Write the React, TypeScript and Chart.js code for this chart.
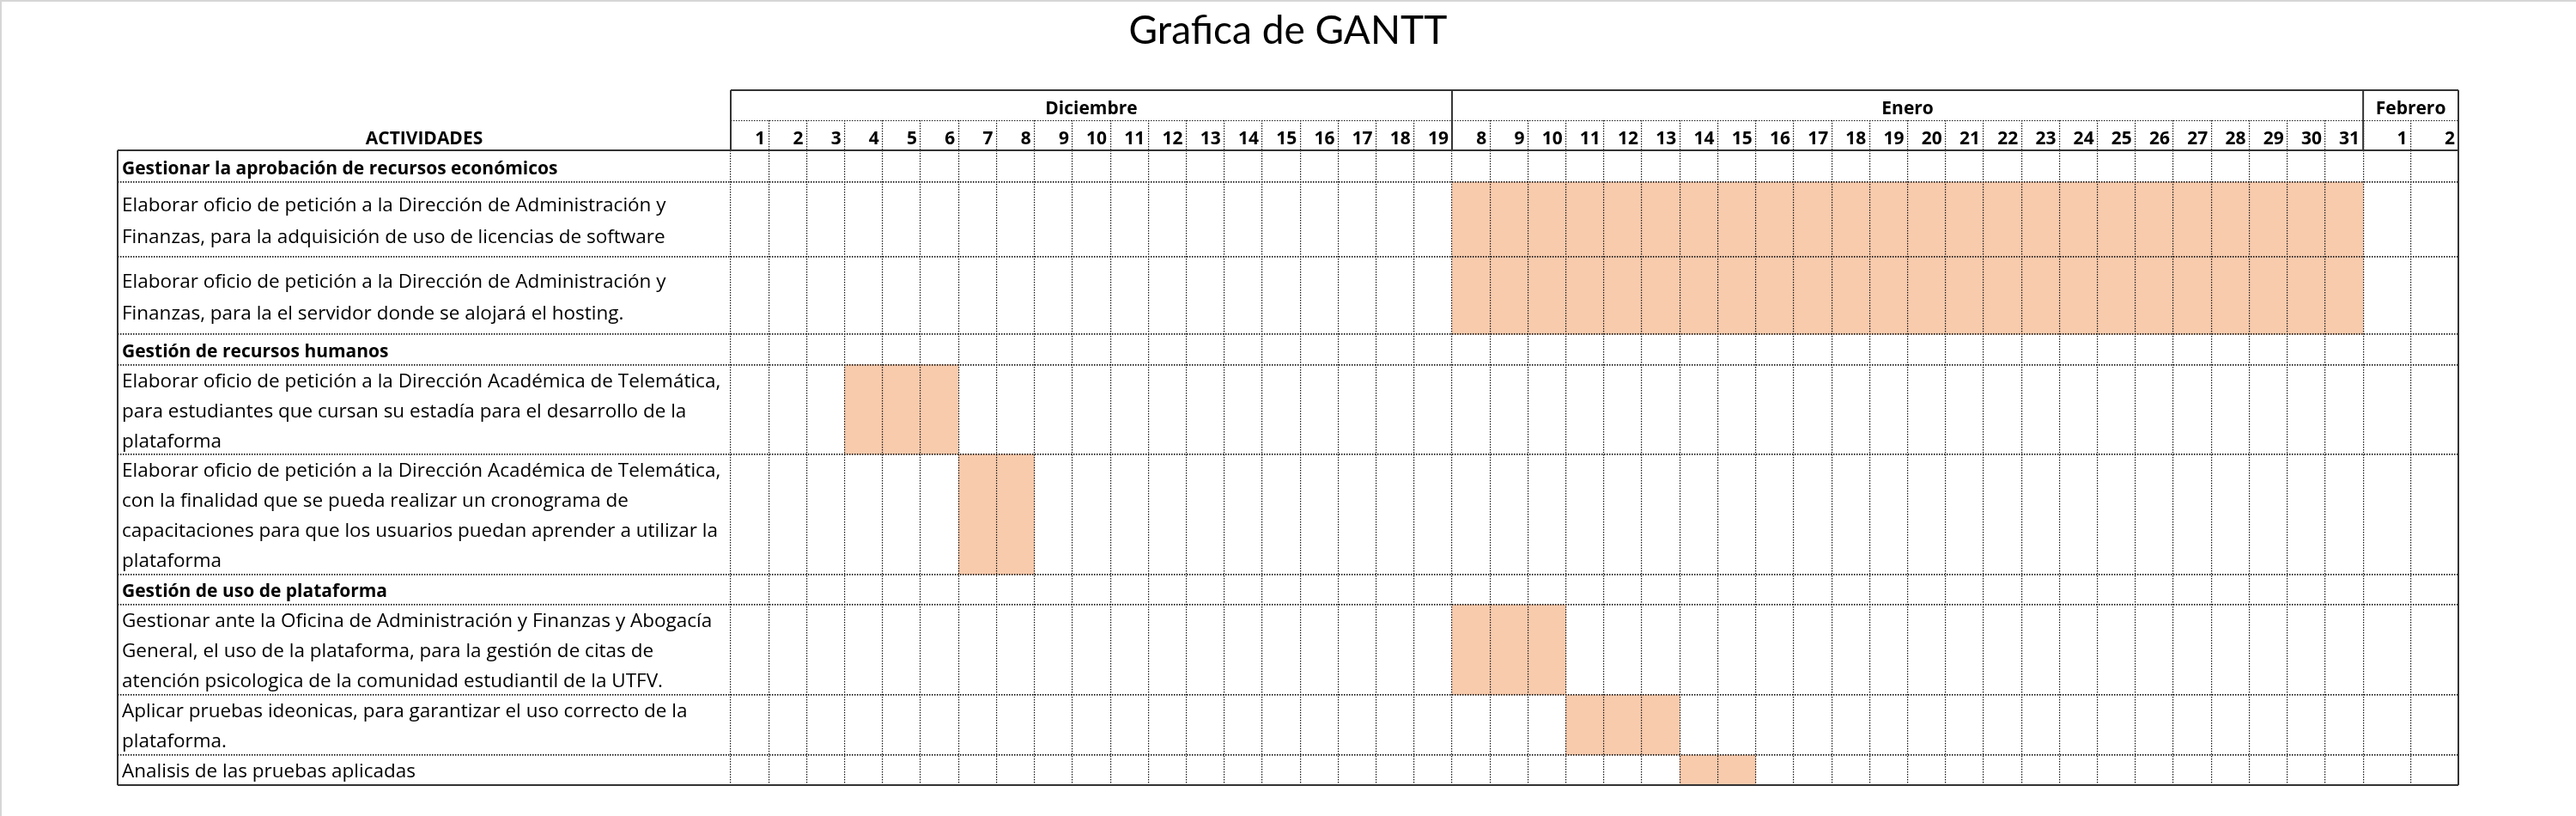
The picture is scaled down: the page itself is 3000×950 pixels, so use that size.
import React, { useEffect, useRef } from 'react';
import { Chart, registerables } from 'chart.js';

Chart.register(...registerables);

// ---------- data ----------
const TITLE = 'Grafica de GANTT';
const HEADER_LABEL = 'ACTIVIDADES';
const MONTHS = ['Diciembre', 'Enero', 'Febrero'];
const DIC_DAYS = [1, 2, 3, 4, 5, 6, 7, 8, 9, 10, 11, 12, 13, 14, 15, 16, 17, 18, 19];
const ENE_DAYS = [8, 9, 10, 11, 12, 13, 14, 15, 16, 17, 18, 19, 20, 21, 22, 23, 24, 25, 26, 27, 28, 29, 30, 31];
const FEB_DAYS = [1, 2];
const MONTH_DAYS = [DIC_DAYS, ENE_DAYS, FEB_DAYS];

const ACTIVITIES: string[][] = [
  ['Gestionar la aprobación de recursos económicos'],
  ['Elaborar oficio de petición a la Dirección de Administración y', 'Finanzas, para la adquisición de uso de licencias de software'],
  ['Elaborar oficio de petición a la Dirección de Administración y', 'Finanzas, para la el servidor donde se alojará el hosting.'],
  ['Gestión de recursos humanos'],
  ['Elaborar oficio de petición a la Dirección Académica de Telemática,', 'para estudiantes que cursan su estadía para el desarrollo de la', 'plataforma'],
  ['Elaborar oficio de petición a la Dirección Académica de Telemática,', 'con la finalidad que se pueda realizar un cronograma de', 'capacitaciones para que los usuarios puedan aprender a utilizar la', 'plataforma'],
  ['Gestión de uso de plataforma'],
  ['Gestionar ante la Oficina de Administración y Finanzas y Abogacía', 'General, el uso de la plataforma, para la gestión de citas de', 'atención psicologica de la comunidad estudiantil de la UTFV.'],
  ['Aplicar pruebas ideonicas, para garantizar el uso correcto de la', 'plataforma.'],
  ['Analisis de las pruebas aplicadas'],
];
const IS_GROUP = [true, false, false, true, false, false, true, false, false, false];

// task spans as [month index, day]
const TASK_START: ([number, number] | null)[] = [null, [1, 8], [1, 8], null, [0, 4], [0, 7], null, [1, 8], [1, 11], [1, 14]];
const TASK_END: ([number, number] | null)[] = [null, [1, 31], [1, 31], null, [0, 6], [0, 8], null, [1, 10], [1, 13], [1, 15]];

// ---------- layout ----------
const W = 3000;
const H = 950;
const COL_WEIGHT = [1, 1, 1.254];
const ROW_SPAN = [1.06, 2.49, 2.57, 1.01, 2.98, 4.0, 1.0, 3.0, 2.0, 1.0];
const ACT_COL_WIDTH = 714;
const HEADER_ROW_H = 35;
const BAR_COLOR = '#F8CBAD';
const GRID_COLOR = '#1a1a1a';
const SOLID_COLOR = '#333333';
const DOT = [1.5, 1.5];
const FONT = '"Open Sans", Lato, sans-serif';
const TITLE_FONT = 'Lato, "Open Sans", sans-serif';

const COLUMNS: { m: number; d: number }[] = [];
MONTH_DAYS.forEach((days, m) => days.forEach((d) => COLUMNS.push({ m, d })));
const X_EDGES: number[] = [0];
COLUMNS.forEach((c) => X_EDGES.push(X_EDGES[X_EDGES.length - 1] + COL_WEIGHT[c.m]));
const ROW_EDGES: number[] = [0];
ROW_SPAN.forEach((s) => ROW_EDGES.push(ROW_EDGES[ROW_EDGES.length - 1] + s));
const colIndex = (p: [number, number]) => COLUMNS.findIndex((c) => c.m === p[0] && c.d === p[1]);
const monthRange = (m: number) => {
  const first = COLUMNS.findIndex((c) => c.m === m);
  return [X_EDGES[first], X_EDGES[first + MONTH_DAYS[m].length]];
};

const CELLS: { x: number; y: [number, number] }[] = [];
TASK_START.forEach((s, r) => {
  const e = TASK_END[r];
  if (!s || !e) return;
  for (let c = colIndex(s); c <= colIndex(e); c++) {
    CELLS.push({ x: (X_EDGES[c] + X_EDGES[c + 1]) / 2, y: [ROW_EDGES[r], ROW_EDGES[r + 1]] });
  }
});

const tablePlugin = {
  id: 'ganttTable',
  beforeDraw(chart: any) {
    const ctx = chart.ctx;
    ctx.save();
    ctx.fillStyle = '#ffffff';
    ctx.fillRect(0, 0, W, H);
    ctx.fillStyle = '#d6d6d6';
    ctx.fillRect(0, 0, W, 2);
    ctx.fillRect(0, 0, 2, H);
    ctx.restore();
  },
  afterDraw(chart: any) {
    const ctx = chart.ctx;
    const xs = chart.scales.x;
    const ys = chart.scales.y;
    const dayTop = xs.top;
    const dayBottom = xs.bottom;
    const monthTop = dayTop - (dayBottom - dayTop);
    const gridLeft = xs.getPixelForValue(X_EDGES[0]);
    const right = xs.getPixelForValue(X_EDGES[X_EDGES.length - 1]);
    const left = ys.left;
    const bottom = ys.getPixelForValue(ROW_EDGES[ROW_EDGES.length - 1]);
    ctx.save();

    // dotted line between month row and day row
    ctx.strokeStyle = GRID_COLOR;
    ctx.lineWidth = 1.2;
    ctx.setLineDash(DOT);
    ctx.beginPath();
    ctx.moveTo(gridLeft, dayTop + 0.5);
    ctx.lineTo(right, dayTop + 0.5);
    ctx.stroke();

    // solid borders
    ctx.setLineDash([]);
    ctx.strokeStyle = SOLID_COLOR;
    ctx.lineWidth = 2;
    const line = (x1: number, y1: number, x2: number, y2: number) => {
      ctx.beginPath();
      ctx.moveTo(x1, y1);
      ctx.lineTo(x2, y2);
      ctx.stroke();
    };
    line(gridLeft, monthTop, right, monthTop);
    MONTHS.forEach((_, m) => {
      const [a] = monthRange(m);
      const px = xs.getPixelForValue(a);
      line(px, monthTop, px, dayBottom);
    });
    line(right, monthTop, right, bottom);
    line(left, dayBottom, right, dayBottom);
    line(left, dayBottom, left, bottom);
    line(left, bottom, right, bottom);

    // texts
    ctx.fillStyle = '#000';
    ctx.textBaseline = 'alphabetic';
    ctx.font = `bold 21px ${FONT}`;
    ctx.textAlign = 'center';
    MONTHS.forEach((name, m) => {
      const [a, b] = monthRange(m);
      ctx.fillText(name, (xs.getPixelForValue(a) + xs.getPixelForValue(b)) / 2, dayTop - 7);
    });
    ctx.fillText(HEADER_LABEL, (ys.left + ys.right) / 2, dayBottom - 7);
    ctx.textAlign = 'right';
    COLUMNS.forEach((c, i) => {
      ctx.fillText(String(c.d), xs.getPixelForValue(X_EDGES[i + 1]) - 4, dayBottom - 7);
    });

    ctx.textAlign = 'left';
    ACTIVITIES.forEach((lines, r) => {
      const top = ys.getPixelForValue(ROW_EDGES[r]);
      const bot = ys.getPixelForValue(ROW_EDGES[r + 1]);
      const n = lines.length;
      const lh = Math.min(37.5, (bot - top) / n);
      const center = (top + bot) / 2;
      ctx.font = IS_GROUP[r] ? `bold 21px ${FONT}` : `22.5px ${FONT}`;
      lines.forEach((t, k) => {
        ctx.fillText(t, left + 5, center + (k - (n - 1) / 2) * lh + 9);
      });
    });
    ctx.restore();
  },
};

export default function App() {
  const ref = useRef<HTMLCanvasElement | null>(null);
  useEffect(() => {
    if (!ref.current) return;
    const chart = new Chart(ref.current, {
      type: 'bar',
      data: {
        datasets: [
          {
            data: CELLS as any,
            backgroundColor: BAR_COLOR,
            borderWidth: 0,
            barPercentage: 1,
            categoryPercentage: 1,
            grouped: false,
          },
        ],
      },
      options: {
        responsive: false,
        animation: false,
        events: [],
        layout: { padding: { left: 137, right: 137, top: 0, bottom: 36 } },
        plugins: {
          legend: { display: false },
          tooltip: { enabled: false },
          title: {
            display: true,
            text: TITLE,
            color: '#000',
            font: { family: TITLE_FONT, size: 46, weight: 'normal', lineHeight: 1.2 },
            padding: { top: 9, bottom: 75.8 },
          },
        },
        scales: {
          x: {
            type: 'linear',
            position: 'top',
            offset: false,
            min: 0,
            max: X_EDGES[X_EDGES.length - 1],
            afterBuildTicks: (s: any) => {
              s.ticks = X_EDGES.map((v) => ({ value: v }));
            },
            ticks: { display: false },
            grid: {
              offset: false,
              color: GRID_COLOR,
              lineWidth: 1.2,
              drawTicks: true,
              tickLength: HEADER_ROW_H,
              tickColor: GRID_COLOR,
              tickWidth: 1.2,
              tickBorderDash: DOT,
              z: 1,
            },
            border: { display: false, dash: DOT },
          },
          y: {
            type: 'linear',
            position: 'left',
            reverse: true,
            offset: false,
            min: 0,
            max: ROW_EDGES[ROW_EDGES.length - 1],
            afterBuildTicks: (s: any) => {
              s.ticks = ROW_EDGES.map((v) => ({ value: v }));
            },
            ticks: { display: false },
            grid: {
              offset: false,
              color: GRID_COLOR,
              lineWidth: 1.8,
              drawTicks: true,
              tickLength: ACT_COL_WIDTH,
              tickColor: GRID_COLOR,
              tickWidth: 1.8,
              tickBorderDash: DOT,
              z: 1,
            },
            border: { display: false, dash: DOT },
          },
        },
      } as any,
      plugins: [tablePlugin],
    });
    return () => chart.destroy();
  }, []);
  return (
    <div style={{ position: 'fixed', left: 0, top: 0, width: W, height: H, background: '#fff' }}>
      <canvas ref={ref} width={W} height={H} style={{ display: 'block' }} />
    </div>
  );
}
